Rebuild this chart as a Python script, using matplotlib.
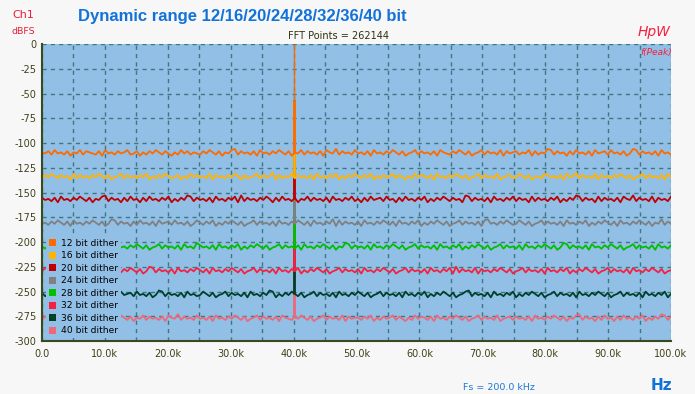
import numpy as np
import matplotlib
matplotlib.use('Agg')
import matplotlib.pyplot as plt
from matplotlib.patches import Patch

# data
labels = ['12 bit dither', '16 bit dither', '20 bit dither', '24 bit dither',
          '28 bit dither', '32 bit dither', '36 bit dither', '40 bit dither']
colors = ['#FF6A00', '#FFB400', '#C00000', '#808080',
          '#00C000', '#F82040', '#00402A', '#F06878']
floors = [-110, -134, -157, -181, -205, -229, -253, -277]   # noise floor, dBFS
tone_freq = 40000      # Hz
tone_peak = -56.5      # dBFS

# noise ripple around each floor, digit 0..9 -> about -5..+5 dB
noise = [
    "54637453625473654362745364573462536475364253746354"
    "36475362547836453627453647536254736453627548364537"
    "45362745364753624573645362754364753624573645372645"
    "63547263548736452637453627456374536248736453627453",
    "36475364527364536475362457364536472536475346253746"
    "45372645364752634573645826354736453627453647253647"
    "53647253645736425374653627453647536245736453724563"
    "47536245376453627458364537264536475362457364536274",
    "64536274536475362547836452637452637453647253648736"
    "45362745364728364536475263745362547364536274536473"
    "52637456374526374536472536475364528736453627453647"
    "36452736453647253648736452736453627548364537264537",
    "45364753627453647536248736452637453627456374536247"
    "53647253647536245736453627453647536274536482736453"
    "62745364753627453647253647536245736453627845364753"
    "47536245736453627453647253647536274536475362548364",
    "53647253647536247364536274536475362457364536274538"
    "64536274536472536475362457364536274536475362548736"
    "45362745364753624573645362745364725364753624573645"
    "36274536475362487364536274536475362457364536274536",
    "47536245736453627453647253647536248736453627453647"
    "53627453647536245736453627453647253647536245736453"
    "62745364753624573645362745364728364537264536475362"
    "45736453627453647253647536245736453627453647536245",
    "63547263548736452637453627456374536248736453627453"
    "47536245736453627453648725364753624573645362745364"
    "75362457364536274536472536475362457836453627453647"
    "25364753624573645362745364753624573645362745364725",
    "36475362547836453627453647536254736453627548364537"
    "45362745364753624573645362754364753624573645372645"
    "53647253645736425374653627453647536245736453724563"
    "64536274536475362547836452637452637453647253648736",
]

xticks = np.arange(0, 100001, 10000)
xticklabels = ['0.0'] + ['%.1fk' % (v / 1000) for v in xticks[1:]]
yticks = np.arange(0, -301, -25)

bg = '#F7F7F7'
axbg = '#92BFE6'
gridc = '#3C7882'
tickc = '#404018'

fig = plt.figure(figsize=(6.95, 3.94), dpi=100, facecolor=bg)
ax = fig.add_axes([42 / 695, 1 - 341 / 394, 629 / 695, 297 / 394])
ax.set_facecolor(axbg)

# thin peak marker above the tone
ax.vlines(tone_freq, tone_peak, 0, color='#FF6A00', lw=1.0, zorder=2)

# draw 40 bit first so 12 bit ends up on top
for i in range(len(labels) - 1, -1, -1):
    dev = (np.array([int(c) for c in noise[i]]) - 4.5) * 1.15
    f = np.linspace(0, 100000, len(dev))
    ax.plot(f, floors[i] + dev, color=colors[i], lw=1.3, zorder=3 + (8 - i))
    ax.vlines(tone_freq, floors[i], tone_peak, color=colors[i], lw=2.0, zorder=3 + (8 - i))

ax.set_xlim(0, 100000)
ax.set_ylim(-300, 0)
ax.set_xticks(xticks)
ax.set_xticklabels(xticklabels)
ax.set_xticks(np.arange(5000, 100000, 10000), minor=True)
ax.set_yticks(yticks)
ax.set_yticklabels([str(v) for v in yticks])
ax.grid(True, which='both', color=gridc, ls=(0, (3, 3)), lw=1.0, zorder=1)
ax.tick_params(which='both', length=0, colors=tickc, labelsize=7)
ax.tick_params(axis='x', pad=6)
ax.tick_params(axis='y', pad=4)
for s in ['top', 'right']:
    ax.spines[s].set_visible(False)
for s in ['left', 'bottom']:
    ax.spines[s].set_color('#3A4A20')
    ax.spines[s].set_linewidth(1.5)
    ax.spines[s].set_zorder(20)

handles = [Patch(facecolor=c, edgecolor='none') for c in colors]
leg = ax.legend(handles, labels, loc='lower left', bbox_to_anchor=(0.006, 0.01),
                borderaxespad=0, fontsize=6.6, frameon=True, fancybox=False,
                facecolor=axbg, edgecolor='none', framealpha=1,
                handlelength=0.8, handleheight=0.8, handletextpad=0.6,
                labelspacing=0.38, borderpad=0.3)
leg.set_zorder(15)
for t in leg.get_texts():
    t.set_color('black')

# texts
fig.text(78 / 695, 1 - 16 / 394, 'Dynamic range 12/16/20/24/28/32/36/40 bit',
         color='#1272D8', fontsize=12, fontweight='bold', family='Liberation Sans',
         ha='left', va='center')
fig.text(12 / 695, 1 - 15 / 394, 'Ch1', color='#E8203A', fontsize=8, ha='left', va='center')
fig.text(12 / 695, 1 - 32 / 394, 'dBFS', color='#E8203A', fontsize=6.8, ha='left', va='center')
fig.text(288 / 695, 1 - 36 / 394, 'FFT Points = 262144', color='#303010', fontsize=7,
         ha='left', va='center')
fig.text(670 / 695, 1 - 32 / 394, 'HpW', color='#F82040', fontsize=10, style='italic',
         ha='right', va='center')
fig.text(672 / 695, 1 - 52 / 394, 'f(Peak)', color='#F82040', fontsize=6.5, style='italic',
         ha='right', va='center', zorder=30)
fig.text(463 / 695, 1 - 387 / 394, 'Fs = 200.0 kHz', color='#1E78D8', fontsize=6.8,
         ha='left', va='center')
fig.text(672 / 695, 1 - 385 / 394, 'Hz', color='#1272D8', fontsize=11, fontweight='bold',
         ha='right', va='center')

fig.savefig('out.png', dpi=100, facecolor=bg)
